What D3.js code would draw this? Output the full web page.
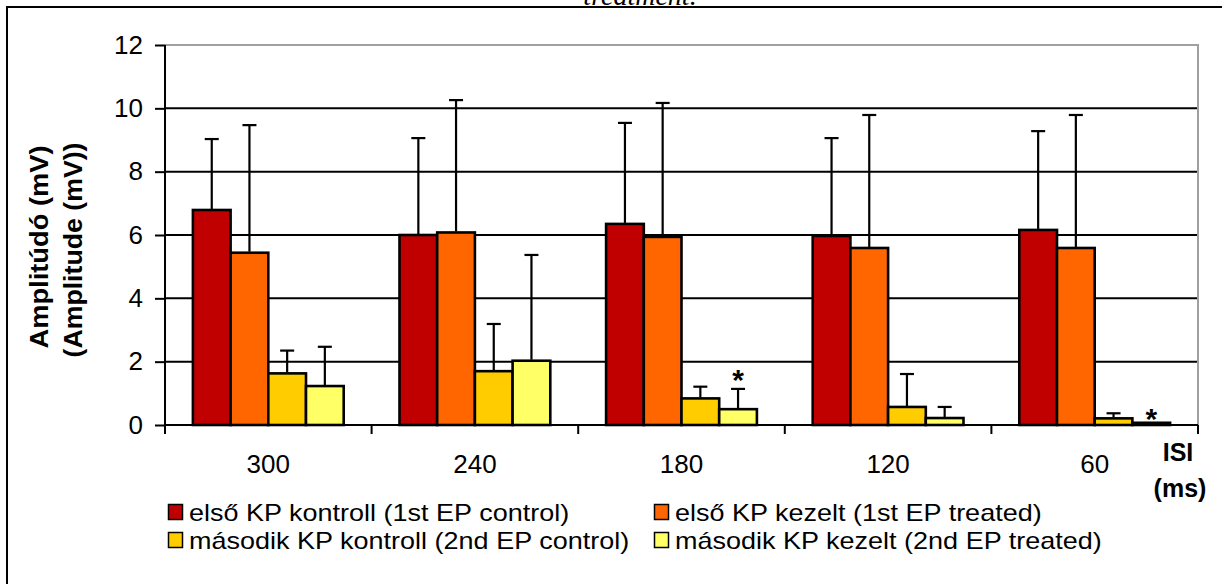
<!DOCTYPE html>
<html>
<head>
<meta charset="utf-8">
<script src="https://cdn.jsdelivr.net/npm/d3@7"></script>
<style>
  body { margin: 0; background: #fff; }
  svg { display: block; font-family: "Liberation Sans", Arial, sans-serif; }
</style>
</head>
<body>
<script>
  // data
  var categories = ["300", "240", "180", "120", "60"];
  var seriesNames = [
    "első KP kontroll (1st EP control)",
    "első KP kezelt (1st EP treated)",
    "második KP kontroll (2nd EP control)",
    "második KP kezelt (2nd EP treated)"
  ];
  var seriesColors = ["#C00000", "#FF6600", "#FFCC00", "#FFFF66"];

  var ctrl1 = [6.79, 6.00, 6.35, 5.97, 6.16];
  var treat1 = [5.44, 6.08, 5.94, 5.59, 5.59];
  var ctrl2 = [1.63, 1.70, 0.84, 0.57, 0.21];
  var treat2 = [1.23, 2.03, 0.50, 0.22, 0.07];

  var ctrl1Err = [2.24, 3.06, 3.19, 3.09, 3.12];
  var treat1Err = [4.03, 4.18, 4.23, 4.20, 4.20];
  var ctrl2Err = [0.72, 1.49, 0.37, 1.04, 0.16];
  var treat2Err = [1.24, 3.34, 0.64, 0.35, 0];

  // significance stars on the 2nd EP treated series (height in mV)
  var starLevel = [null, null, 1.63, null, 0.41];

  var yTicks = [0, 2, 4, 6, 8, 10, 12];

  var values = [ctrl1, treat1, ctrl2, treat2];
  var errors = [ctrl1Err, treat1Err, ctrl2Err, treat2Err];

  var W = 1222, H = 584;
  var plotL = 165, plotR = 1198, plotT = 45, plotB = 425;

  var svg = d3.select("body").append("svg")
    .attr("width", W)
    .attr("height", H);

  // title, mostly cut off at the top
  svg.append("text")
    .attr("x", 640)
    .attr("y", 5)
    .attr("text-anchor", "middle")
    .style("font-family", "'Liberation Serif', 'Times New Roman', serif")
    .style("font-style", "italic")
    .style("font-size", "28px")
    .text("treatment.");

  // outer frame
  svg.append("rect")
    .attr("x", 7).attr("y", 7)
    .attr("width", 1400).attr("height", 800)
    .attr("fill", "none")
    .attr("stroke", "#000")
    .attr("stroke-width", 2);

  var x0 = d3.scaleBand()
    .domain(categories)
    .range([plotL, plotR]);

  var x1 = d3.scaleBand()
    .domain(d3.range(seriesNames.length))
    .range([0, x0.bandwidth()])
    .paddingOuter(0.74);

  var y = d3.scaleLinear()
    .domain([0, 12])
    .range([plotB, plotT]);

  // gridlines
  svg.append("g")
    .selectAll("line")
    .data(yTicks.filter(function(d) { return d > 0 && d < 12; }))
    .enter().append("line")
    .attr("x1", plotL).attr("x2", plotR)
    .attr("y1", function(d) { return y(d); })
    .attr("y2", function(d) { return y(d); })
    .attr("stroke", "#000")
    .attr("stroke-width", 2);

  // plot area border (grey, top and right)
  svg.append("path")
    .attr("d", "M" + plotL + "," + y(12) + "H" + plotR + "V" + plotB)
    .attr("fill", "none")
    .attr("stroke", "#a0a0a0")
    .attr("stroke-width", 2);

  // bars
  var groups = svg.append("g")
    .selectAll("g")
    .data(categories)
    .enter().append("g")
    .attr("transform", function(d) { return "translate(" + x0(d) + ",0)"; });

  groups.selectAll("rect")
    .data(function(d, i) {
      return values.map(function(s, k) { return { k: k, v: s[i], e: errors[k][i] }; });
    })
    .enter().append("rect")
    .attr("x", function(d) { return x1(d.k); })
    .attr("width", x1.bandwidth())
    .attr("y", function(d) { return y(d.v); })
    .attr("height", function(d) { return y(0) - y(d.v); })
    .attr("fill", function(d) { return seriesColors[d.k]; })
    .attr("stroke", "#000")
    .attr("stroke-width", 2.6);

  // error bars (upper part only)
  var err = groups.selectAll(".err")
    .data(function(d, i) {
      return values.map(function(s, k) { return { k: k, v: s[i], e: errors[k][i] }; })
        .filter(function(d) { return d.e > 0; });
    })
    .enter().append("g")
    .attr("class", "err");

  err.append("line")
    .attr("x1", function(d) { return x1(d.k) + x1.bandwidth() / 2; })
    .attr("x2", function(d) { return x1(d.k) + x1.bandwidth() / 2; })
    .attr("y1", function(d) { return y(d.v) - 1; })
    .attr("y2", function(d) { return y(d.v + d.e); })
    .attr("stroke", "#000")
    .attr("stroke-width", 2.2);

  err.append("line")
    .attr("x1", function(d) { return x1(d.k) + x1.bandwidth() / 2 - 7; })
    .attr("x2", function(d) { return x1(d.k) + x1.bandwidth() / 2 + 7; })
    .attr("y1", function(d) { return y(d.v + d.e); })
    .attr("y2", function(d) { return y(d.v + d.e); })
    .attr("stroke", "#000")
    .attr("stroke-width", 2.2);

  // stars
  svg.append("g")
    .selectAll("text")
    .data(categories.map(function(c, i) { return { c: c, s: starLevel[i] }; })
      .filter(function(d) { return d.s !== null; }))
    .enter().append("text")
    .attr("x", function(d) { return x0(d.c) + x1(3) + x1.bandwidth() / 2; })
    .attr("y", function(d) { return y(d.s) + 17; })
    .attr("text-anchor", "middle")
    .style("font-weight", "bold")
    .style("font-size", "30px")
    .text("*");

  // y axis
  var yAxis = svg.append("g")
    .attr("transform", "translate(" + plotL + ",0)")
    .call(d3.axisLeft(y).tickValues(yTicks).tickSize(10).tickPadding(12));
  yAxis.select(".domain")
    .attr("d", "M0," + plotT + "V" + (plotB + 8))
    .attr("stroke-width", 2);
  yAxis.selectAll(".tick line").attr("stroke-width", 2);
  yAxis.selectAll(".tick text")
    .style("font-size", "26px")
    .style("font-family", "'Liberation Sans', Arial, sans-serif")
    .attr("fill", "#000");

  // x axis
  var xAxis = svg.append("g")
    .attr("transform", "translate(0," + plotB + ")")
    .call(d3.axisBottom(x0).tickSize(0).tickPadding(30));
  xAxis.select(".domain")
    .attr("d", "M" + plotL + ",0H" + plotR)
    .attr("stroke-width", 2);
  xAxis.selectAll(".tick text")
    .style("font-size", "26px")
    .style("font-family", "'Liberation Sans', Arial, sans-serif")
    .attr("fill", "#000");

  xAxis.selectAll(".bound")
    .data(categories.map(function(c) { return x0(c); }).concat([plotR]))
    .enter().append("line")
    .attr("class", "bound")
    .attr("x1", function(d) { return d; })
    .attr("x2", function(d) { return d; })
    .attr("y1", 0).attr("y2", 9)
    .attr("stroke", "#000")
    .attr("stroke-width", 2);

  // axis titles
  var yTitle = svg.append("g")
    .style("font-weight", "bold")
    .style("font-size", "25px");
  yTitle.append("text")
    .attr("transform", "translate(48,247) rotate(-90)")
    .attr("text-anchor", "middle")
    .attr("textLength", 203)
    .attr("lengthAdjust", "spacingAndGlyphs")
    .text("Amplitúdó (mV)");
  yTitle.append("text")
    .attr("transform", "translate(82,250) rotate(-90)")
    .attr("text-anchor", "middle")
    .attr("textLength", 215)
    .attr("lengthAdjust", "spacingAndGlyphs")
    .text("(Amplitude (mV))");

  svg.append("text")
    .attr("x", 1178).attr("y", 461)
    .attr("text-anchor", "middle")
    .style("font-weight", "bold")
    .style("font-size", "25px")
    .text("ISI");
  svg.append("text")
    .attr("x", 1180).attr("y", 497)
    .attr("text-anchor", "middle")
    .style("font-weight", "bold")
    .style("font-size", "25px")
    .text("(ms)");

  // legend, 2 x 2
  var legendCols = [168, 654];
  var legendRows = [504, 532];
  var legend = svg.append("g")
    .selectAll("g")
    .data(seriesNames)
    .enter().append("g")
    .attr("transform", function(d, i) {
      return "translate(" + legendCols[i % 2] + "," + legendRows[Math.floor(i / 2)] + ")";
    });

  legend.append("rect")
    .attr("width", 14).attr("height", 15)
    .attr("x", 0.5).attr("y", 0.5)
    .attr("fill", function(d, i) { return seriesColors[i]; })
    .attr("stroke", "#000")
    .attr("stroke-width", 1.5);

  legend.append("text")
    .attr("transform", "translate(21,17) scale(1.174,1)")
    .style("font-size", "23px")
    .text(function(d) { return d; });
</script>
</body>
</html>
